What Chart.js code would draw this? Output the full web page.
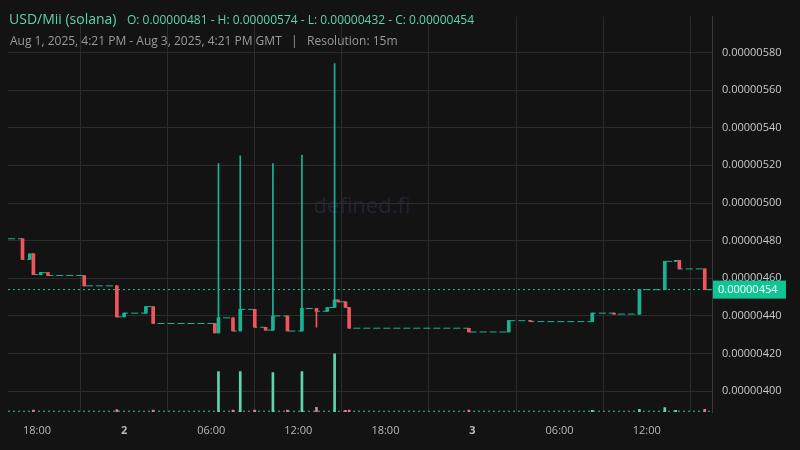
<!DOCTYPE html>
<html><head><meta charset="utf-8">
<script src="https://cdn.jsdelivr.net/npm/chart.js@4"></script>
<style>html,body{margin:0;background:#131313}#w{width:800px;height:450px}</style>
</head><body><div id="w"><canvas id="c"></canvas></div>
<script>
// prices in units of 1e-8; time in hours since Aug 1, 2025 00:00 GMT
const times  = [17,17.5,17.75,18.25,18.75,21.25,23.5,24,25.5,26,30.25,30.5,31.5,32,33,33.75,34.25,35.25,36.25,37.25,38,38.5,38.75,39.25,39.5,47.75,50.5,52,56.25,57.75,59.5,61.25,62,62.25,64];
const opens  = [481,470,473,462,463,461.5,456,439.5,441.5,445,436,431,439,432,443.5,434,432.5,440,432,444,442.5,444.5,448.5,447.5,444.5,433.5,431.5,437.5,437,441.5,441,454,469,469.5,465];
const closes = [470,473,462,463,461.5,456,439.5,441.5,445,436,431,439,432,443.5,434,432.5,440,432,444,442.5,444.5,448.5,447.5,444.5,433.5,431.5,437.5,437,441.5,441,454,469,469.5,465,454];
const highs  = [481,473,473,463,463,461.5,456,441.5,445,445,436,521,439,525,443.5,434,521,440,525.5,444,444.5,574,448.5,447.5,444.5,433.5,437.5,437.5,441.5,441.5,454,469,469.5,469.5,465];
const lows   = [470,470,462,462,461.5,456,439.5,439.5,441.5,436,431,431,432,432,434,432.5,432.5,432,432,434,442.5,444.5,447.5,444.5,433.5,431.5,431.5,437,437,441,441,454,469,465,454];
const volTimes = [17.75,23.5,26,30.5,31.5,32,33,34.25,35.25,36.25,37.25,38.5,39.25,39.5,47.75,56.25,59.5,61.25,62,64];
const volumes  = [5,6,5,102,5,102,5,100,5,102,12,147,4,5,5,4,7,11,4,7];
const volUp    = [0,0,0,1,0,1,0,1,0,1,0,1,0,0,0,1,1,1,1,0];
const startOpen = 481, lastPrice = 454;
const xTicks = [18,24,30,36,42,48,54,60];
const xLabels = ['18:00','2','06:00','12:00','18:00','3','06:00','12:00'];
const yTicks = [400,420,440,460,480,500,520,540,560,580];

const UP='#19b394', DN='#f0555d';
const cols = closes.map((c,i)=>c>=opens[i]?UP:DN);
const flat = [{x:16,y:startOpen}].concat(times.map((t,i)=>({x:t,y:closes[i]}))).concat([{x:64.5,y:lastPrice}]);
const fmt = v => (v/1e8).toFixed(8);

const deco = {
  id:'deco',
  beforeDraw(ch){const c=ch.ctx;c.save();c.fillStyle='#131313';c.fillRect(0,0,ch.width,ch.height);
    c.fillStyle='#232334';c.font='22px "Open Sans"';c.textAlign='center';c.textBaseline='middle';c.fillText('defined.fi',362,207);c.restore();},
  afterDraw(ch){const c=ch.ctx;c.save();
    c.textBaseline='alphabetic';c.textAlign='left';
    c.fillStyle='#5fd3b0';c.font='14px "Open Sans"';c.fillText('USD/Mii (solana)',9,24);
    c.font='12px "Open Sans"';c.fillText('O: 0.00000481 - H: 0.00000574 - L: 0.00000432 - C: 0.00000454',127,24);
    c.fillStyle='#9a9a9a';c.fillText('Aug 1, 2025, 4:21 PM - Aug 3, 2025, 4:21 PM GMT   |   Resolution: 15m',10,45);
    const y=ch.scales.y.getPixelForValue(lastPrice);
    c.fillStyle='#0fc594';c.fillRect(713,y-9,73,18);
    c.fillStyle='#ffffff';c.font='11px "Open Sans"';c.textBaseline='middle';c.fillText(fmt(lastPrice),718,y+0.5);
    c.restore();}
};

new Chart(document.getElementById('c'),{
  data:{datasets:[
    {type:'bar',label:'wick',data:times.map((t,i)=>({x:t,y:[lows[i],highs[i]]})),backgroundColor:cols,barThickness:1,yAxisID:'y',order:2,grouped:false},
    {type:'bar',label:'body',data:times.map((t,i)=>({x:t,y:[Math.min(opens[i],closes[i]),Math.max(opens[i],closes[i])+(opens[i]===closes[i]?0.4:0)]})),backgroundColor:cols,barThickness:3,yAxisID:'y',order:1,grouped:false},
    {type:'line',label:'flat',data:flat,stepped:'before',borderColor:UP,borderWidth:1,borderDash:[7,3],pointRadius:0,yAxisID:'y',order:5},
    {type:'line',label:'last',data:[{x:16,y:lastPrice},{x:64.5,y:lastPrice}],borderColor:'#13c99a',borderWidth:1,borderDash:[2,3],pointRadius:0,yAxisID:'y',order:6},
    {type:'bar',label:'vol',data:volTimes.map((t,i)=>({x:t,y:volumes[i]})),backgroundColor:volUp.map(u=>u?'#5fd3b0':'#e8788f'),barThickness:2,yAxisID:'yv',order:3,grouped:false},
    {type:'line',label:'vbase',data:[{x:16,y:2},{x:64.5,y:2}],borderColor:'#3fb99a',borderWidth:1,borderDash:[2,3],pointRadius:0,yAxisID:'yv',order:7}
  ]},
  options:{responsive:true,maintainAspectRatio:false,animation:false,
    layout:{padding:{left:8,top:10,right:0,bottom:0}},
    plugins:{legend:{display:false},tooltip:{enabled:false}},
    scales:{
      x:{type:'linear',min:16,max:64.5,offset:false,
        afterBuildTicks:s=>{s.ticks=xTicks.map(v=>({value:v}));},
        afterFit:s=>{s.height=38;},
        grid:{color:'#2c2c2c',drawTicks:false},border:{display:false},
        ticks:{padding:12,color:'#b8b8b8',autoSkip:false,maxRotation:0,
          font:ctx=>({family:'"Open Sans"',size:11,weight:(ctx.tick&&(ctx.tick.value%24===0))?'bold':'normal'}),
          callback:v=>{const i=xTicks.indexOf(v);return i<0?'':xLabels[i];}}},
      y:{position:'right',min:389,max:599,
        afterBuildTicks:s=>{s.ticks=yTicks.map(v=>({value:v}));},
        afterFit:s=>{s.width=88;},
        grid:{color:'#2c2c2c',drawTicks:false},border:{color:'#3a3a3a'},
        ticks:{padding:10,color:'#c8c8c8',font:{family:'"Open Sans"',size:11},callback:v=>fmt(v)}},
      yv:{display:false,min:0,max:1000}
    }},
  plugins:[deco]
});
</script></body></html>
